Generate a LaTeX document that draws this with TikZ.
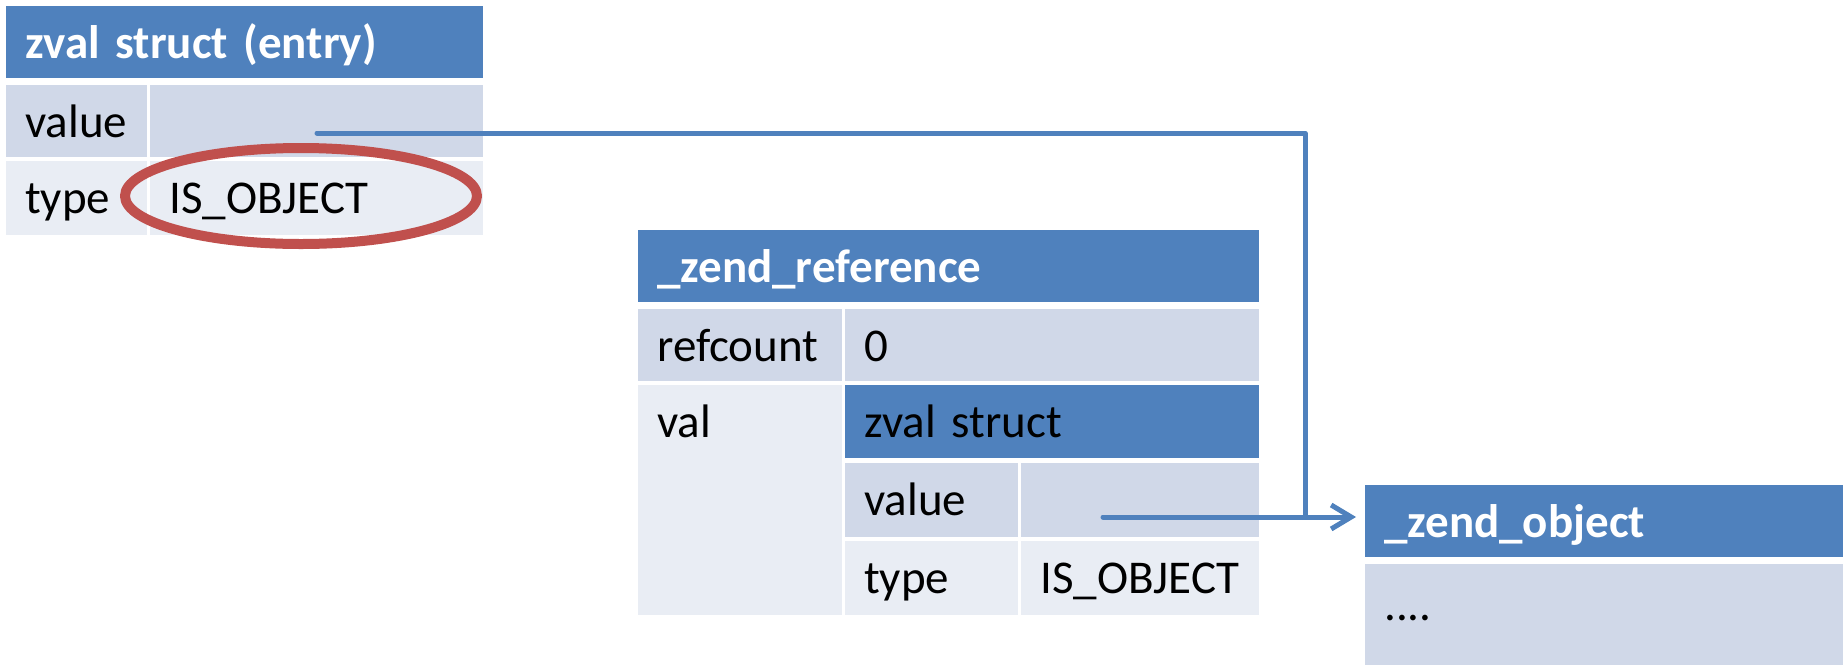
\documentclass[tikz,border=0pt]{standalone}
\usepackage{fontspec}
\setmainfont{Carlito}
\usepackage{tikz}
\usetikzlibrary{arrows.meta}
\definecolor{hdblue}{HTML}{4F81BD}
\definecolor{rowdark}{HTML}{D0D8E8}
\definecolor{rowlight}{HTML}{E9EDF4}
\definecolor{ovalred}{HTML}{C0504D}

\begin{document}
\begin{tikzpicture}[line cap=round,line join=round,x=1pt,y=-1pt,
    cell/.style={rectangle,anchor=north west,inner xsep=19pt,inner ysep=0pt,align=left,text height=52pt,font=\fontsize{47}{56}\selectfont},
    head/.style={cell,fill=hdblue,text=white,font=\fontsize{47}{56}\selectfont\bfseries},
    subhead/.style={cell,fill=hdblue},
    dark/.style={cell,fill=rowdark},
    light/.style={cell,fill=rowlight},
    ptr/.style={draw=hdblue,line width=5pt},
    circled/.style={draw=ovalred,line width=10pt}]
    \useasboundingbox (0,0) rectangle (1843,665);
    % zval struct (entry)
    \node[head,text width=439pt,text depth=20pt] (ehead) at (6,6) {zval struct (entry)};
    \node[dark,text width=103pt,text depth=20pt] (evalkey) at (6,85) {value};
    \node[dark,text width=295pt,text depth=20pt] (evalval) at (150,85) {};
    \node[light,text width=103pt,text depth=22pt] (etypekey) at (6,161) {type};
    \node[light,text width=295pt,text depth=22pt] (etypeval) at (150,161) {IS\_OBJECT};
    \draw[circled] (301,196) ellipse [x radius=176,y radius=48];
    % _zend_reference
    \node[head,text width=583pt,text depth=20pt] (rhead) at (638,230) {\_zend\_reference};
    \node[dark,text width=166pt,text depth=20pt] (rcountkey) at (638,309) {refcount};
    \node[dark,text width=376pt,text depth=20pt] (rcountval) at (845,309) {0};
    \node[light,text width=166pt,text depth=178pt] (rvalkey) at (638,385) {val};
    \node[subhead,text width=376pt,text depth=21pt] (zhead) at (845,385) {zval struct};
    \node[dark,text width=135pt,text depth=22pt] (zvalkey) at (845,463) {value};
    \node[dark,text width=200pt,text depth=22pt] (zvalval) at (1021,463) {};
    \node[light,text width=135pt,text depth=22pt] (ztypekey) at (845,541) {type};
    \node[light,text width=200pt,text depth=22pt] (ztypeval) at (1021,541) {IS\_OBJECT};
    % _zend_object
    \node[head,text width=440pt,text depth=20pt] (ohead) at (1365,485) {\_zend\_object};
    \node[dark,text width=440pt,text height=56pt,text depth=45pt] (obody) at (1365,564) {....};
    % pointers
    \coordinate (entryptr) at (317,133);
    \coordinate (refptr) at (1103,517);
    \coordinate (joint) at (1305,517);
    \draw[ptr,-{Straight Barb[length=20pt,width=24pt]},shorten >=9pt] (entryptr) -| (joint) -- (ohead.west |- joint);
    \draw[ptr] (refptr) -- (joint);
\end{tikzpicture}
\end{document}
